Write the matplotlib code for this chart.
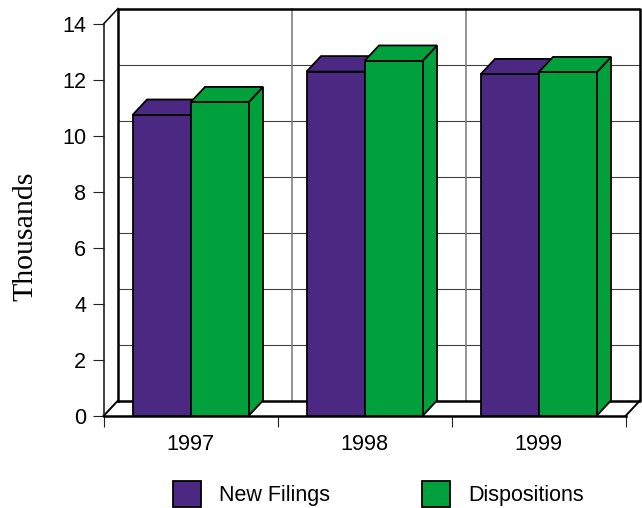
import matplotlib
matplotlib.use("Agg")
import matplotlib.pyplot as plt
from matplotlib.patches import Patch

years = ["1997", "1998", "1999"]
new_filings = [10.75, 12.3, 12.2]
dispositions = [11.2, 12.68, 12.27]
y_ticks = [0, 2, 4, 6, 8, 10, 12, 14]

PURPLE = "#4b2882"
GREEN = "#00a03c"
W, H = 642, 508

plt.rcParams["font.family"] = ["Liberation Sans", "DejaVu Sans"]

fig = plt.figure(figsize=(W / 100, H / 100), dpi=100)
# front face of the box: x 103.5-625.5 px, y 416-24 px
ax = fig.add_axes([103.5 / W, 1 - 416 / H, 522 / W, 392 / H])
ax.set_xlim(-0.5, 2.5)
ax.set_ylim(0, 14)
ax.patch.set_alpha(0)
for s in ax.spines.values():
    s.set_visible(False)

# 3d offset in data units
dx = 14.5 / 174
dy = 15.5 / 28
bar_w = 58 / 174


def box(x0, x1, top, color):
    ax.fill([x1, x1 + dx, x1 + dx, x1], [0, dy, top + dy, top],
            facecolor=color, edgecolor="black", lw=1.3, clip_on=False, zorder=5)
    ax.fill([x0, x1, x1 + dx, x0 + dx], [top, top, top + dy, top + dy],
            facecolor=color, edgecolor="black", lw=1.3, clip_on=False, zorder=5)
    ax.fill([x0, x1, x1, x0], [0, 0, top, top],
            facecolor=color, edgecolor="black", lw=1.3, clip_on=False, zorder=5)


# back wall, floor, side wall
x_l, x_r = -0.5, 2.5
for v in y_ticks[1:-1]:
    ax.plot([x_l + dx, x_r + dx], [v + dy, v + dy], color="#404040", lw=0.8,
            clip_on=False, zorder=1)
for xv in [0.5, 1.5]:
    ax.plot([xv + dx, xv + dx], [dy, 14 + dy], color="#808080", lw=1.2,
            clip_on=False, zorder=1)
ax.plot([x_l + dx, x_r + dx, x_r + dx, x_l + dx, x_l + dx],
        [dy, dy, 14 + dy, 14 + dy, dy], color="black", lw=1.8,
        clip_on=False, zorder=2)
ax.plot([x_l, x_l + dx], [0, dy], color="black", lw=1.4, clip_on=False, zorder=2)
ax.plot([x_r, x_r + dx], [0, dy], color="black", lw=1.4, clip_on=False, zorder=2)
ax.plot([x_l, x_l + dx], [14, 14 + dy], color="black", lw=1.1, clip_on=False, zorder=2)
ax.plot([x_l, x_l], [0, 14], color="#202020", lw=1.2, clip_on=False, zorder=2)
ax.plot([x_l, x_r], [0, 0], color="black", lw=1.8, clip_on=False, zorder=2)

for i, (a, b) in enumerate(zip(new_filings, dispositions)):
    box(i - bar_w, i, a, PURPLE)
    box(i, i + bar_w, b, GREEN)

ax.set_yticks(y_ticks)
ax.set_xticks([-0.5, 0.5, 1.5, 2.5])
ax.set_xticklabels([])
ax.set_xticks([0, 1, 2], labels=years, minor=True)
ax.tick_params(axis="x", which="major", length=8, width=0.8, color="#202020")
ax.tick_params(axis="x", which="minor", length=0, labelsize=15.6, pad=13)
ax.tick_params(axis="y", length=8, width=0.8, color="#202020", labelsize=15.6, pad=4.5)

fig.text(25 / W, 1 - 236 / H, "Thousands", rotation=90, ha="center", va="center",
         family="Liberation Serif", fontsize=21.5)

handles = [Patch(facecolor=PURPLE, edgecolor="black", lw=1.3, label="New Filings"),
           Patch(facecolor=GREEN, edgecolor="black", lw=1.3, label="Dispositions")]
ax.legend(handles=handles, ncol=2, frameon=False, fontsize=15.5, loc="center left",
          bbox_to_anchor=(173 / W, 1 - 494 / H), bbox_transform=fig.transFigure,
          borderpad=0, borderaxespad=0, handlelength=1.3, handleheight=1.55,
          handletextpad=0.85, columnspacing=4.25)

fig.savefig("out.png", dpi=100)
